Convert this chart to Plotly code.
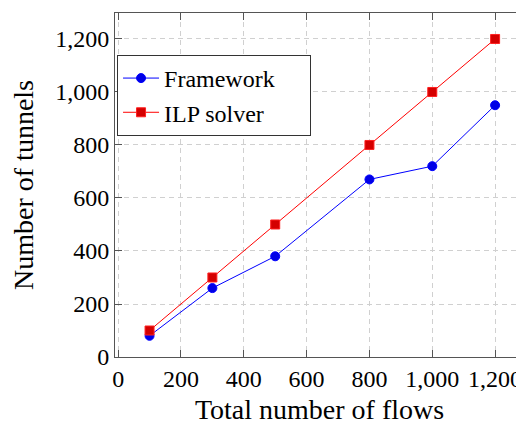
import plotly.graph_objects as go

flows = [100, 300, 500, 800, 1000, 1200]
framework = [80, 260, 380, 670, 720, 950]
ilp_solver = [100, 300, 500, 800, 1000, 1200]
tick_vals = [0, 200, 400, 600, 800, 1000, 1200]
tick_text = ["0", "200", "400", "600", "800", "1,000", "1,200"]

FONT = "Liberation Serif"
AXIS = "#555555"
GRID = "#d0d0d0"
PAD = "\u00a0" * 5

fig = go.Figure()
fig.add_trace(go.Scatter(
    x=flows, y=framework, name="Framework" + PAD, mode="lines+markers",
    line=dict(color="#0000ff", width=1),
    marker=dict(symbol="circle", size=9, color="#0000e6", line=dict(color="#0000ff", width=1)),
))
fig.add_trace(go.Scatter(
    x=flows, y=ilp_solver, name="ILP solver" + PAD, mode="lines+markers",
    line=dict(color="#ff0000", width=1),
    marker=dict(symbol="square", size=9, color="#d40000", line=dict(color="#ff2020", width=1)),
))

fig.update_layout(
    width=516, height=417,
    margin=dict(l=107, r=0, t=5, b=68, autoexpand=False),
    paper_bgcolor="white", plot_bgcolor="white",
    font=dict(family=FONT, size=24, color="black"),
    showlegend=True,
    legend=dict(
        x=0.005, y=0.878, xanchor="left", yanchor="top",
        bgcolor="white", bordercolor="#333333", borderwidth=1,
        font=dict(family=FONT, size=24, color="black"),
        tracegroupgap=0, itemwidth=36,
    ),
)
fig.update_xaxes(
    range=[-10, 1292], tickvals=tick_vals, ticktext=tick_text,
    showline=True, linecolor=AXIS, linewidth=1, mirror="ticks",
    ticks="inside", ticklen=7, tickcolor=AXIS, tickwidth=1,
    showgrid=True, gridcolor=GRID, griddash="5px,4px", gridwidth=1,
    zeroline=False,
    tickfont=dict(family=FONT, size=24, color="black"),
    title=dict(text="Total number of flows", font=dict(family=FONT, size=28, color="black"), standoff=12),
    automargin=False,
)
fig.update_yaxes(
    range=[0, 1298], tickvals=tick_vals, ticktext=tick_text,
    showline=True, linecolor=AXIS, linewidth=1, mirror=False,
    ticks="inside", ticklen=7, tickcolor=AXIS, tickwidth=1,
    showgrid=True, gridcolor=GRID, griddash="5px,4px", gridwidth=1,
    zeroline=False,
    tickfont=dict(family=FONT, size=24, color="black"),
    title=dict(text="Number of tunnels", font=dict(family=FONT, size=28, color="black"), standoff=13),
    automargin=False,
)

fig.write_html("out.html")
